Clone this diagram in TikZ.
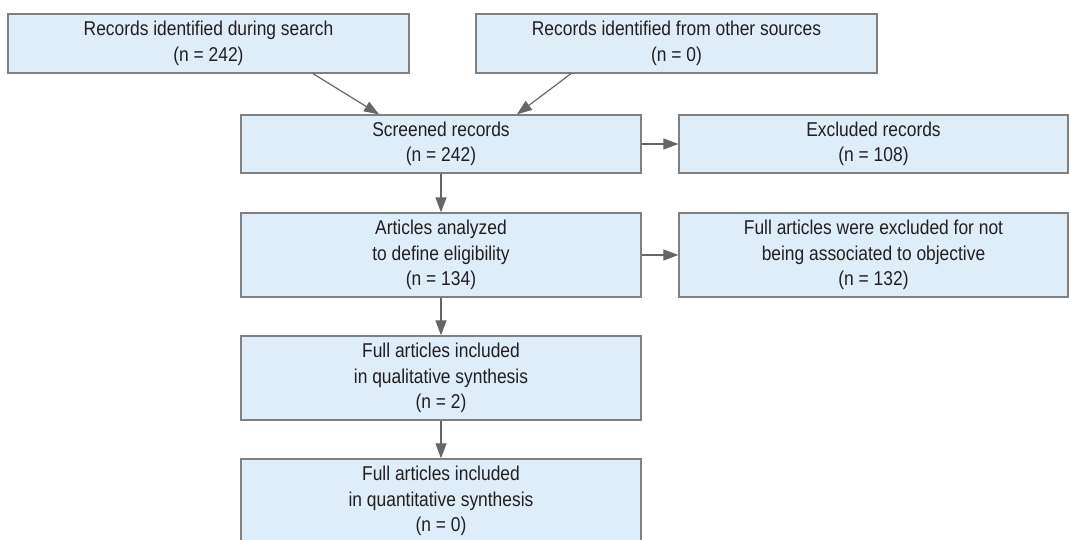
\documentclass[tikz,border=0pt]{standalone}
\usepackage{fontspec}
\setmainfont[FakeStretch=0.87]{Liberation Sans}
\usetikzlibrary{arrows.meta}
\definecolor{boxfill}{HTML}{DFEDF9}
\definecolor{boxline}{HTML}{808080}
\definecolor{arrowcol}{HTML}{666666}
\definecolor{txtcol}{HTML}{231F20}
\begin{document}
\begin{tikzpicture}[x=1pt,y=-1pt,
  flowbox/.style={draw=boxline, fill=boxfill, line width=1.3pt, inner sep=0pt,
    align=center, text=txtcol, font=\fontsize{20}{25.5}\selectfont,
    minimum width=400pt, minimum height=58pt},
  tall/.style={minimum height=84pt},
  side/.style={minimum width=389pt},
  flowarrow/.style={draw=arrowcol, line width=1.2pt, -{Triangle[length=15pt,width=11pt]}}]
\useasboundingbox (0,0) rectangle (1069,540);
\node[flowbox, minimum width=401pt, minimum height=59pt] (b1) at (208.5,43.5) {Records identified during search\\(n = 242)};
\node[flowbox, minimum width=401pt, minimum height=59pt] (b2) at (676.5,43.5) {Records identified from other sources\\(n = 0)};
\node[flowbox] (b3) at (441,144) {Screened records\\(n = 242)};
\node[flowbox, side] (b4) at (873.5,144) {Excluded records\\(n = 108)};
\node[flowbox, tall] (b5) at (441,255) {Articles analyzed\\to define eligibility\\(n = 134)};
\node[flowbox, tall, side] (b6) at (873.5,255) {Full articles were excluded for not\\being associated to objective\\(n = 132)};
\node[flowbox, tall] (b7) at (441,378) {Full articles included\\in qualitative synthesis\\(n = 2)};
\node[flowbox, tall] (b8) at (441,501) {Full articles included\\in quantitative synthesis\\(n = 0)};
\draw[flowarrow] ([xshift=104.5pt]b1.south) -- ([xshift=-62pt]b3.north);
\draw[flowarrow] ([xshift=-105.5pt]b2.south) -- ([xshift=76pt]b3.north);
\draw[flowarrow] (b3.east) -- (b4.west);
\draw[flowarrow] (b5.east) -- (b6.west);
\draw[flowarrow] (b3.south) -- (b5.north);
\draw[flowarrow] (b5.south) -- (b7.north);
\draw[flowarrow] (b7.south) -- (b8.north);
\end{tikzpicture}
\end{document}
